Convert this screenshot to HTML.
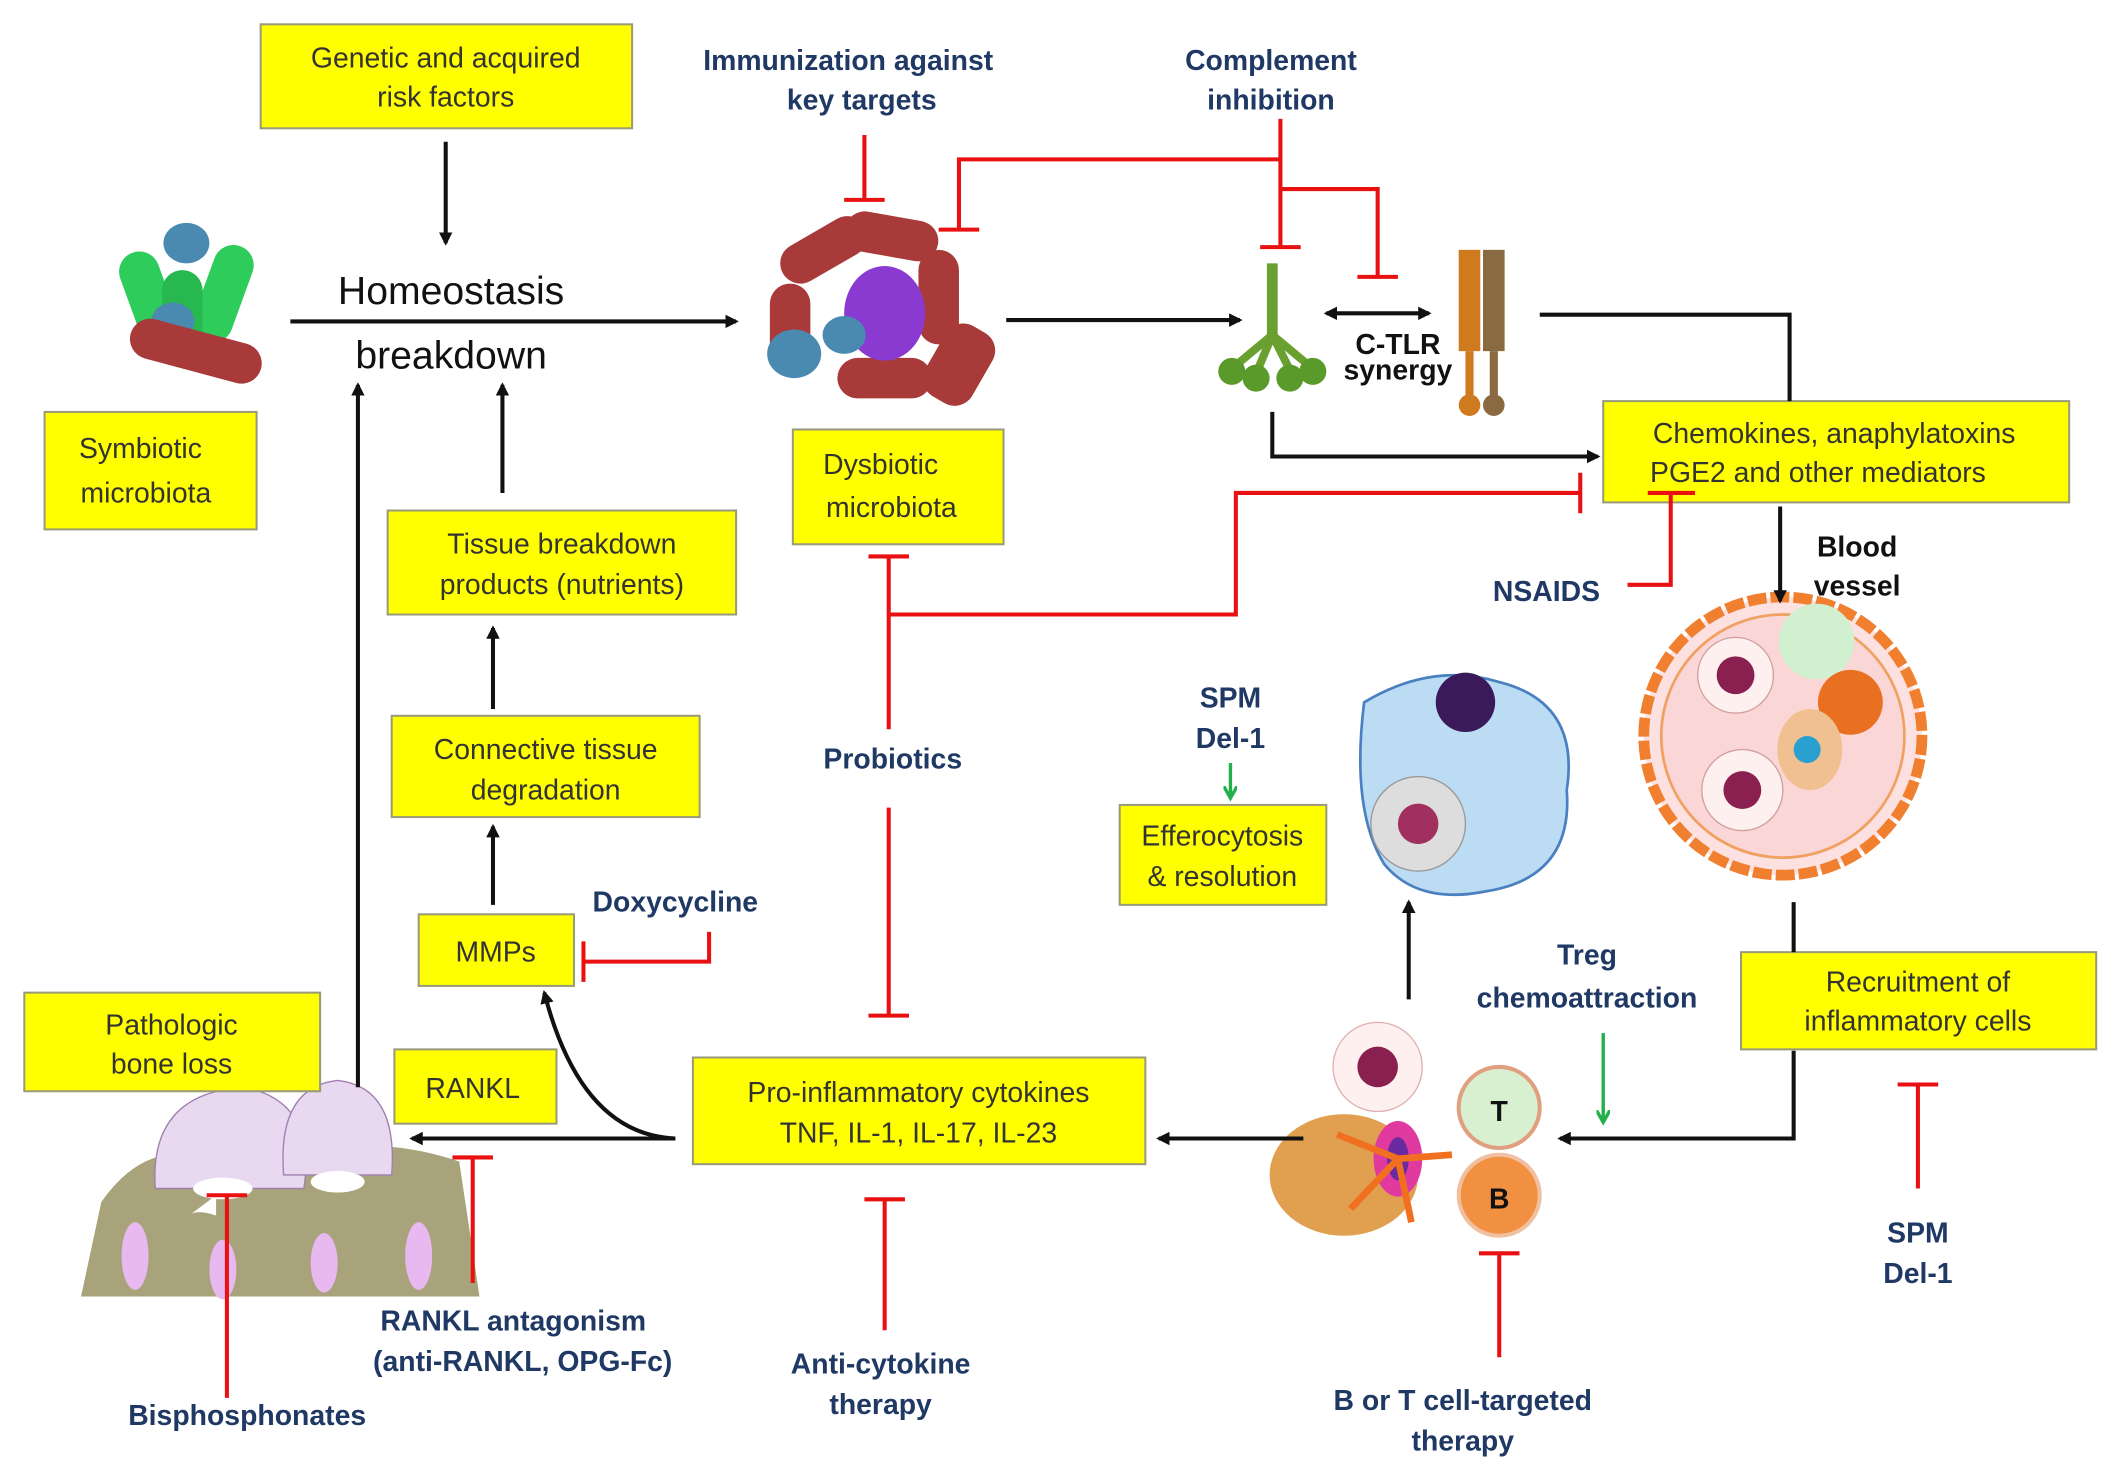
<!DOCTYPE html>
<html><head><meta charset="utf-8"><style>
html,body{margin:0;padding:0;background:#fff;}
svg{display:block}
.bx{fill:#ffff00;stroke:#9a9a7a;stroke-width:1.5}
.bt{font-family:"Liberation Sans",sans-serif;font-size:21px;fill:#333;text-anchor:middle}
.nv{font-family:"Liberation Sans",sans-serif;font-size:21px;fill:#1f3864;font-weight:bold;text-anchor:middle}
.bk{font-family:"Liberation Sans",sans-serif;font-size:21px;fill:#111;font-weight:bold;text-anchor:middle}
.a{stroke:#111;stroke-width:3;fill:none}
.r{stroke:#e81010;stroke-width:3;fill:none}
.g{stroke:#22b04a;stroke-width:2.5;fill:none}
</style></head><body>
<svg width="2107" height="1464" viewBox="0 0 1560 1084" preserveAspectRatio="none" xmlns="http://www.w3.org/2000/svg">
<defs>
<marker id="ah" markerWidth="10" markerHeight="10" refX="8" refY="5" orient="auto" markerUnits="userSpaceOnUse"><path d="M0,0 L10,5 L0,10 Z" fill="#111"/></marker>
<marker id="ahs" markerWidth="10" markerHeight="10" refX="2" refY="5" orient="auto" markerUnits="userSpaceOnUse"><path d="M10,0 L0,5 L10,10 Z" fill="#111"/></marker>
<marker id="gh" markerWidth="12" markerHeight="10" refX="8" refY="5" orient="auto" markerUnits="userSpaceOnUse"><path d="M0,0 L9,5 L0,10" fill="none" stroke="#22b04a" stroke-width="2.5"/></marker>
</defs>
<rect width="1560" height="1084" fill="#fff"/>

<!-- illustrations -->
<g>
<rect x="95" y="185" width="30" height="70" rx="15" fill="#2ecc5a" transform="rotate(-20 110 220)"/>
<rect x="150" y="180" width="30" height="75" rx="15" fill="#2ecc5a" transform="rotate(20 165 218)"/>
<ellipse cx="138" cy="180" rx="17" ry="15" fill="#4a8ab0"/>
<rect x="120" y="200" width="30" height="60" rx="15" fill="#27b850"/>
<ellipse cx="128" cy="238" rx="16" ry="14" fill="#4a8ab0"/>
<rect x="95" y="245" width="100" height="30" rx="15" fill="#a83a3a" transform="rotate(15 145 260)"/>
</g>
<g>
<circle cx="650" cy="232" r="72" fill="none"/>
<rect x="575" y="170" width="70" height="30" rx="15" fill="#a83a3a" transform="rotate(-30 610 185)"/>
<rect x="625" y="160" width="70" height="30" rx="15" fill="#a83a3a" transform="rotate(10 660 175)"/>
<rect x="680" y="185" width="30" height="70" rx="15" fill="#a83a3a"/>
<rect x="570" y="210" width="30" height="60" rx="15" fill="#a83a3a"/>
<rect x="690" y="240" width="40" height="60" rx="15" fill="#a83a3a" transform="rotate(30 710 270)"/>
<rect x="620" y="265" width="70" height="30" rx="15" fill="#a83a3a"/>
<ellipse cx="655" cy="232" rx="30" ry="35" fill="#8a3ad0"/>
<ellipse cx="588" cy="262" rx="20" ry="18" fill="#4a8ab0"/>
<ellipse cx="625" cy="248" rx="16" ry="14" fill="#4a8ab0"/>
</g>
<g>
<rect x="938" y="195" width="8" height="55" fill="#6aa030"/>
<path d="M942,248 L918,268 M942,248 L932,272 M942,248 L954,272 M942,248 L966,268" stroke="#6aa030" stroke-width="6"/>
<circle cx="912" cy="275" r="10" fill="#5a9a2a"/><circle cx="930" cy="280" r="10" fill="#5a9a2a"/><circle cx="955" cy="280" r="10" fill="#5a9a2a"/><circle cx="972" cy="275" r="10" fill="#5a9a2a"/>
<rect x="1080" y="185" width="16" height="75" fill="#d07a20"/><rect x="1098" y="185" width="16" height="75" fill="#8a6a40"/>
<rect x="1085" y="260" width="6" height="35" fill="#d07a20"/><rect x="1103" y="260" width="6" height="35" fill="#8a6a40"/>
<circle cx="1088" cy="300" r="8" fill="#d07a20"/><circle cx="1106" cy="300" r="8" fill="#8a6a40"/>
</g>
<g>
<circle cx="1320" cy="545" r="103" fill="#fde0e0" stroke="#f08030" stroke-width="8" stroke-dasharray="14 3"/>
<circle cx="1320" cy="545" r="90" fill="#fbd6d6" stroke="#f0a060" stroke-width="2"/>
<circle cx="1285" cy="500" r="28" fill="#fff0f0" stroke="#d0a0a0"/><circle cx="1285" cy="500" r="14" fill="#8a2050"/>
<circle cx="1290" cy="585" r="30" fill="#fff0f0" stroke="#d0a0a0"/><circle cx="1290" cy="585" r="14" fill="#8a2050"/>
<circle cx="1345" cy="475" r="28" fill="#d0f0d0"/>
<circle cx="1370" cy="520" r="24" fill="#e87020"/>
<ellipse cx="1340" cy="555" rx="24" ry="30" fill="#f0c090"/><circle cx="1338" cy="555" r="10" fill="#2aa0d0"/>
</g>
<g>
<path d="M1010,520 Q1060,490 1110,505 Q1170,520 1160,585 Q1165,650 1100,660 Q1050,670 1025,640 Q1000,600 1010,520Z" fill="#bcdcf4" stroke="#4a80c0" stroke-width="2"/>
<circle cx="1085" cy="520" r="22" fill="#3a1a5a"/>
<circle cx="1050" cy="610" r="35" fill="#ddd" stroke="#999"/><circle cx="1050" cy="610" r="15" fill="#a03060"/>
</g>
<g>
<ellipse cx="995" cy="870" rx="55" ry="45" fill="#e0a050"/>
<circle cx="1020" cy="790" r="33" fill="#fff0f0" stroke="#e0b0b0"/><circle cx="1020" cy="790" r="15" fill="#8a2050"/>
<circle cx="1110" cy="820" r="30" fill="#d8f0d0" stroke="#e0a080" stroke-width="3"/>
<text x="1110" y="830" class="bk" font-size="28">T</text>
<circle cx="1110" cy="885" r="30" fill="#f09040" stroke="#f0c0a0" stroke-width="3"/>
<text x="1110" y="895" class="bk" font-size="28">B</text>
<ellipse cx="1035" cy="858" rx="18" ry="28" fill="#e03aa0"/><ellipse cx="1035" cy="858" rx="8" ry="16" fill="#6a2aa0"/>
<path d="M1035,858 L990,840 M1035,858 L1075,855 M1035,858 L1045,905 M1035,858 L1000,895" stroke="#f07020" stroke-width="5"/>
</g>
<g>
<path d="M60,960 L75,890 Q110,840 160,860 Q200,830 230,855 Q280,840 340,860 L355,960 Z" fill="#a8a37a"/>
<path d="M115,880 Q110,810 180,805 Q235,815 225,880 Z" fill="#e8d8f0" stroke="#a080b0"/>
<path d="M210,870 Q205,805 250,800 Q295,805 290,870 Z" fill="#e8d8f0" stroke="#a080b0"/>
<path d="M140,900 Q145,895 160,900 L160,885 Z" fill="#fff"/>
<ellipse cx="165" cy="880" rx="22" ry="8" fill="#fff"/><ellipse cx="250" cy="875" rx="20" ry="8" fill="#fff"/>
<ellipse cx="100" cy="930" rx="10" ry="25" fill="#e8b8f0"/><ellipse cx="165" cy="940" rx="10" ry="22" fill="#e8b8f0"/><ellipse cx="240" cy="935" rx="10" ry="22" fill="#e8b8f0"/><ellipse cx="310" cy="930" rx="10" ry="25" fill="#e8b8f0"/>
</g>

<!-- boxes -->
<rect class="bx" x="193" y="18" width="275" height="77"/>
<text class="bt" x="330" y="50">Genetic and acquired</text><text class="bt" x="330" y="79">risk factors</text>
<rect class="bx" x="33" y="305" width="157" height="87"/>
<text class="bt" x="104" y="339">Symbiotic</text><text class="bt" x="108" y="372">microbiota</text>
<rect class="bx" x="587" y="318" width="156" height="85"/>
<text class="bt" x="652" y="351">Dysbiotic</text><text class="bt" x="660" y="383">microbiota</text>
<rect class="bx" x="287" y="378" width="258" height="77"/>
<text class="bt" x="416" y="410">Tissue breakdown</text><text class="bt" x="416" y="440">products (nutrients)</text>
<rect class="bx" x="290" y="530" width="228" height="75"/>
<text class="bt" x="404" y="562">Connective tissue</text><text class="bt" x="404" y="592">degradation</text>
<rect class="bx" x="310" y="677" width="115" height="53"/>
<text class="bt" x="367" y="712" font-size="24">MMPs</text>
<rect class="bx" x="18" y="735" width="219" height="73"/>
<text class="bt" x="127" y="766">Pathologic</text><text class="bt" x="127" y="795">bone loss</text>
<rect class="bx" x="292" y="777" width="120" height="55"/>
<text class="bt" x="350" y="813" font-size="23">RANKL</text>
<rect class="bx" x="513" y="783" width="335" height="79"/>
<text class="bt" x="680" y="816">Pro-inflammatory cytokines</text><text class="bt" x="680" y="846">TNF, IL-1, IL-17, IL-23</text>
<rect class="bx" x="1187" y="297" width="345" height="75"/>
<text class="bt" x="1358" y="328">Chemokines, anaphylatoxins</text><text class="bt" x="1346" y="357">PGE2 and other mediators</text>
<rect class="bx" x="829" y="596" width="153" height="74"/>
<text class="bt" x="905" y="626">Efferocytosis</text><text class="bt" x="905" y="656">&amp; resolution</text>
<rect class="bx" x="1289" y="705" width="263" height="72"/>
<text class="bt" x="1420" y="734">Recruitment of</text><text class="bt" x="1420" y="763">inflammatory cells</text>

<!-- labels -->
<text x="334" y="225" font-family="Liberation Sans,sans-serif" font-size="29" text-anchor="middle" fill="#111">Homeostasis</text>
<text x="334" y="273" font-family="Liberation Sans,sans-serif" font-size="29" text-anchor="middle" fill="#111">breakdown</text>
<text class="nv" x="628" y="52">Immunization against</text><text class="nv" x="638" y="81">key targets</text>
<text class="nv" x="941" y="52">Complement</text><text class="nv" x="941" y="81">inhibition</text>
<text class="bk" x="1035" y="262" font-size="19">C-TLR</text><text class="bk" x="1035" y="281" font-size="19">synergy</text>
<text class="nv" x="1145" y="445">NSAIDS</text>
<text class="bk" x="1375" y="412">Blood</text><text class="bk" x="1375" y="441">vessel</text>
<text class="nv" x="911" y="524">SPM</text><text class="nv" x="911" y="554">Del-1</text>
<text class="nv" x="661" y="569">Probiotics</text>
<text class="nv" x="500" y="675">Doxycycline</text>
<text class="nv" x="1175" y="714">Treg</text><text class="nv" x="1175" y="746">chemoattraction</text>
<text class="nv" x="380" y="985">RANKL antagonism</text><text class="nv" x="387" y="1015">(anti-RANKL, OPG-Fc)</text>
<text class="nv" x="183" y="1055">Bisphosphonates</text>
<text class="nv" x="652" y="1017">Anti-cytokine</text><text class="nv" x="652" y="1047">therapy</text>
<text class="nv" x="1083" y="1044">B or T cell-targeted</text><text class="nv" x="1083" y="1074">therapy</text>
<text class="nv" x="1420" y="920">SPM</text><text class="nv" x="1420" y="950">Del-1</text>

<!-- black arrows -->
<path class="a" d="M330,105 V180" marker-end="url(#ah)"/>
<path class="a" d="M215,238 H545" marker-end="url(#ah)"/>
<path class="a" d="M745,237 H918" marker-end="url(#ah)"/>
<path class="a" d="M982,232 H1058" marker-end="url(#ah)" marker-start="url(#ahs)"/>
<path class="a" d="M1140,233 H1325 V297"/>
<path class="a" d="M942,305 V338 H1183" marker-end="url(#ah)"/>
<path class="a" d="M1318,375 V445" marker-end="url(#ah)"/>
<path class="a" d="M1328,668 V705"/>
<path class="a" d="M1328,778 V843 H1155" marker-end="url(#ah)"/>
<path class="a" d="M965,843 H858" marker-end="url(#ah)"/>
<path class="a" d="M1043,740 V668" marker-end="url(#ah)"/>
<path class="a" d="M500,843 H305" marker-end="url(#ah)"/>
<path class="a" d="M500,843 Q430,840 403,735" marker-end="url(#ah)"/>
<path class="a" d="M365,670 V612" marker-end="url(#ah)"/>
<path class="a" d="M365,525 V465" marker-end="url(#ah)"/>
<path class="a" d="M372,365 V285" marker-end="url(#ah)"/>
<path class="a" d="M265,805 V285" marker-end="url(#ah)"/>

<!-- red inhibitors -->
<path class="r" d="M640,100 V148 M625,148 H655"/>
<path class="r" d="M948,88 V183 M933,183 H963"/>
<path class="r" d="M948,118 H710 V170 M695,170 H725"/>
<path class="r" d="M948,140 H1020 V205 M1005,205 H1035"/>
<path class="r" d="M643,412 H673 M658,412 V540"/>
<path class="r" d="M658,455 H915 V365 H1170 M1170,350 V380"/>
<path class="r" d="M658,598 V752 M643,752 H673"/>
<path class="r" d="M1205,433 H1237 V365 M1220,365 H1255"/>
<path class="r" d="M525,690 V712 H432 M432,697 V727"/>
<path class="r" d="M655,985 V888 M640,888 H670"/>
<path class="r" d="M350,950 V857 M335,857 H365"/>
<path class="r" d="M168,1035 V885 M153,885 H183"/>
<path class="r" d="M1110,1005 V928 M1095,928 H1125"/>
<path class="r" d="M1420,880 V803 M1405,803 H1435"/>

<!-- green arrows -->
<path class="g" d="M911,565 V590" marker-end="url(#gh)"/>
<path class="g" d="M1187,765 V830" marker-end="url(#gh)"/>
</svg>
</body></html>
